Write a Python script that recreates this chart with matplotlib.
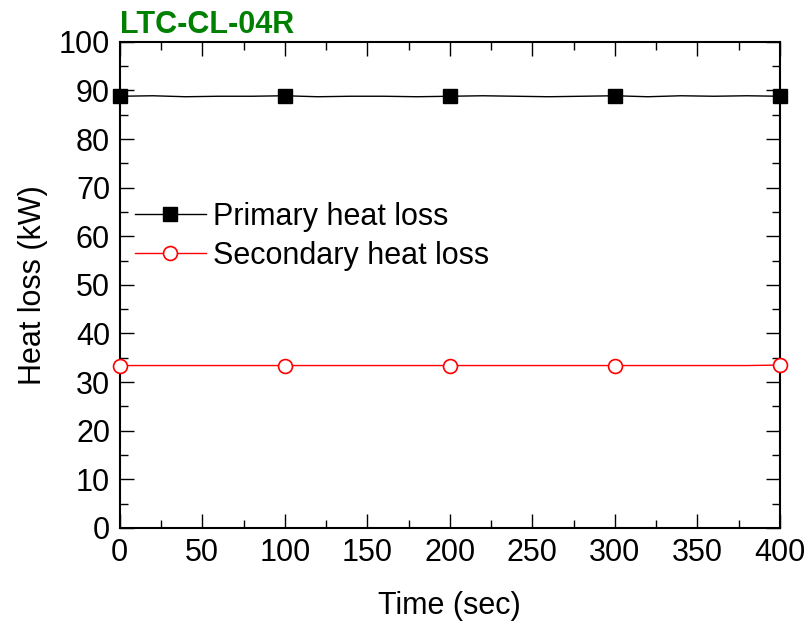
import matplotlib.pyplot as plt
import numpy as np
from matplotlib.ticker import MultipleLocator

plt.rcParams["font.family"] = ["Liberation Sans", "DejaVu Sans"]

# time axis (sec), sampled every 20 s
time_sec = np.arange(0, 401, 20)
primary_kw = [88.8, 88.9, 88.7, 88.8, 88.8, 88.9, 88.7, 88.8, 88.8, 88.7, 88.8,
              88.9, 88.8, 88.7, 88.8, 88.9, 88.7, 88.9, 88.8, 88.9, 88.8]
secondary_kw = [33.4, 33.4, 33.4, 33.4, 33.4, 33.4, 33.4, 33.4, 33.4, 33.4, 33.4,
                33.4, 33.4, 33.4, 33.4, 33.4, 33.4, 33.4, 33.4, 33.4, 33.5]
marker_every = 5

fig = plt.figure(figsize=(8.09, 6.24), dpi=100)
ax = fig.add_axes([0.148, 0.154, 0.816, 0.779])

ax.plot(time_sec, primary_kw, color="black", lw=1.0, marker="s", ms=10,
        markevery=marker_every, label="Primary heat loss", clip_on=False, zorder=3)
ax.plot(time_sec, secondary_kw, color="red", lw=1.0, marker="o", ms=10,
        mfc="white", mec="red", mew=1.2, markevery=marker_every,
        label="Secondary heat loss", clip_on=False, zorder=3)

ax.set_xlim(0, 400)
ax.set_ylim(0, 100)
ax.xaxis.set_major_locator(MultipleLocator(50))
ax.xaxis.set_minor_locator(MultipleLocator(25))
ax.yaxis.set_major_locator(MultipleLocator(10))
ax.yaxis.set_minor_locator(MultipleLocator(5))
ax.tick_params(which="both", direction="in", top=True, right=True,
               labelsize=22, width=1.0)
ax.tick_params(which="major", length=10, pad=7)
ax.tick_params(which="minor", length=6)
for side in ax.spines.values():
    side.set_linewidth(1.5)

ax.set_xlabel("Time (sec)", fontsize=22, labelpad=17)
ax.set_ylabel("Heat loss (kW)", fontsize=22, labelpad=8)
ax.text(0.0, 1.003, "LTC-CL-04R", transform=ax.transAxes, color="#008000",
        fontsize=22, fontweight="bold", ha="left", va="bottom")

ax.legend(loc="upper left", bbox_to_anchor=(0.005, 0.696), borderaxespad=0,
          frameon=False, fontsize=22, handlelength=2.3, handletextpad=0.26,
          labelspacing=0.3)

fig.savefig("out.png", dpi=100)
